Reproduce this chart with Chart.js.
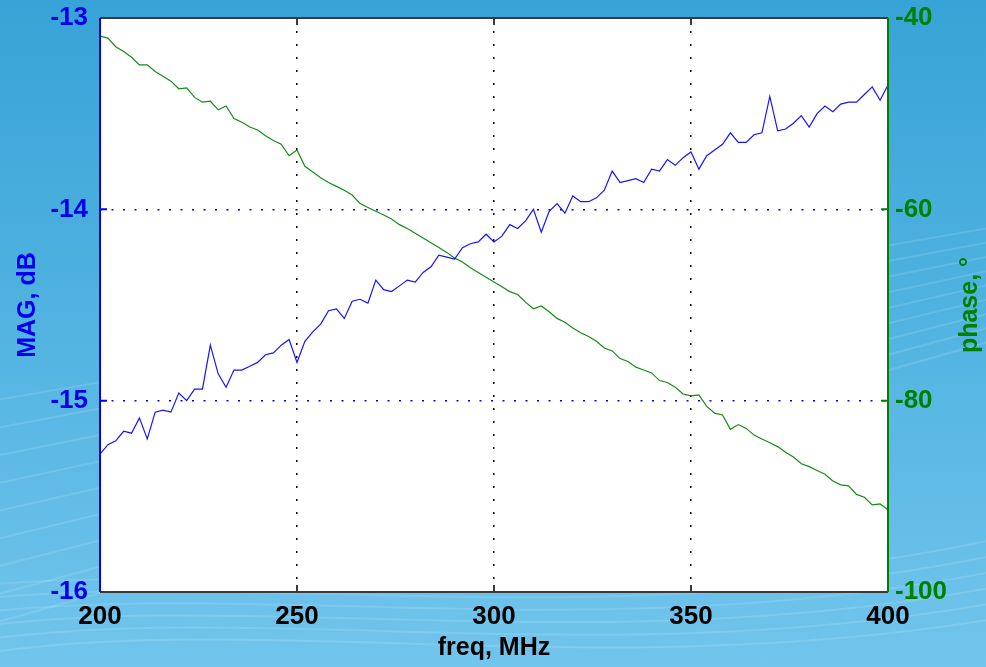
<!DOCTYPE html>
<html>
<head>
<meta charset="utf-8">
<script src="https://cdn.jsdelivr.net/npm/chart.js@4.4.1/dist/chart.umd.min.js"></script>
<style>
  html, body { margin: 0; padding: 0; }
  body {
    width: 986px; height: 667px; overflow: hidden;
    background: linear-gradient(180deg, #38a3d6 0%, #4fb2e0 45%, #72c5ec 100%);
  }
  #wrap { position: relative; width: 986px; height: 667px; }
</style>
</head>
<body>
<div id="wrap"><canvas id="myChart"></canvas></div>
<script>
// frequency sweep, MHz
const freq = [
  200, 202, 204, 206, 208, 210, 212, 214, 216, 218,
  220, 222, 224, 226, 228, 230, 232, 234, 236, 238,
  240, 242, 244, 246, 248, 250, 252, 254, 256, 258,
  260, 262, 264, 266, 268, 270, 272, 274, 276, 278,
  280, 282, 284, 286, 288, 290, 292, 294, 296, 298,
  300, 302, 304, 306, 308, 310, 312, 314, 316, 318,
  320, 322, 324, 326, 328, 330, 332, 334, 336, 338,
  340, 342, 344, 346, 348, 350, 352, 354, 356, 358,
  360, 362, 364, 366, 368, 370, 372, 374, 376, 378,
  380, 382, 384, 386, 388, 390, 392, 394, 396, 398,
  400
];

// MAG, dB (left axis)
const mag = [
  -15.28, -15.23, -15.21, -15.16, -15.17, -15.09, -15.20, -15.06, -15.05, -15.06,
  -14.96, -15.00, -14.94, -14.94, -14.71, -14.86, -14.93, -14.84, -14.84, -14.82,
  -14.80, -14.76, -14.75, -14.71, -14.68, -14.80, -14.69, -14.64, -14.60, -14.53,
  -14.52, -14.57, -14.48, -14.47, -14.49, -14.37, -14.42, -14.43, -14.40, -14.37,
  -14.38, -14.33, -14.30, -14.24, -14.25, -14.26, -14.20, -14.18, -14.17, -14.13,
  -14.17, -14.14, -14.08, -14.10, -14.06, -14.00, -14.12, -14.01, -13.97, -14.02,
  -13.93, -13.96, -13.96, -13.94, -13.90, -13.80, -13.86, -13.85, -13.84, -13.86,
  -13.79, -13.80, -13.74, -13.77, -13.73, -13.70, -13.79, -13.72, -13.69, -13.66,
  -13.60, -13.65, -13.65, -13.61, -13.60, -13.41, -13.59, -13.58, -13.55, -13.51,
  -13.57, -13.50, -13.46, -13.49, -13.45, -13.44, -13.44, -13.40, -13.36, -13.43,
  -13.35
];

// phase, degrees (right axis)
const phase = [
  -41.9, -42.1, -43.0, -43.5, -44.1, -44.9, -44.9, -45.6, -46.1, -46.6,
  -47.4, -47.3, -48.3, -48.8, -48.7, -49.6, -49.2, -50.5, -50.9, -51.4,
  -51.7, -52.3, -52.8, -53.2, -54.4, -53.8, -55.5, -56.1, -56.7, -57.2,
  -57.6, -58.0, -58.5, -59.4, -59.8, -60.2, -60.6, -61.0, -61.6, -62.0,
  -62.5, -63.0, -63.5, -64.0, -64.5, -65.1, -65.5, -66.1, -66.6, -67.1,
  -67.6, -68.1, -68.6, -68.9, -69.7, -70.4, -70.1, -70.7, -71.4, -71.8,
  -72.4, -72.9, -73.3, -73.8, -74.5, -74.8, -75.6, -75.9, -76.5, -76.8,
  -77.1, -77.9, -78.1, -78.6, -79.3, -79.5, -79.4, -80.6, -81.3, -81.5,
  -83.0, -82.5, -82.9, -83.6, -84.0, -84.4, -84.8, -85.4, -85.9, -86.6,
  -86.9, -87.3, -87.7, -88.4, -88.8, -88.9, -89.8, -90.1, -90.9, -90.8,
  -91.4
];

const xTicks = [200, 250, 300, 350, 400];
const magTicks = [-16, -15, -14, -13];
const phaseTicks = [-100, -80, -60, -40];

const BLUE = 'rgb(0, 0, 240)';
const GREEN = 'rgb(0, 128, 0)';
const tickFont = { family: '"Liberation Sans", Arial, sans-serif', size: 26, weight: 'bold' };
const titleFont = { family: '"Liberation Sans", Arial, sans-serif', size: 25, weight: 'bold' };

// fixed axis sizes, no label overflow padding
function fixWidth(w) {
  return s => { s.width = w; s.paddingTop = 0; s.paddingBottom = 0; };
}

// plot backdrop, faint swooshes and the white plot area
const backdrop = {
  id: 'backdrop',
  beforeDraw(chart) {
    const { ctx, chartArea: a, width, height } = chart;
    ctx.save();
    ctx.strokeStyle = 'rgba(255,255,255,0.12)';
    ctx.lineWidth = 2;
    for (let i = 0; i < 9; i++) {
      ctx.beginPath();
      ctx.moveTo(-20, height - 40 - i * 28);
      ctx.quadraticCurveTo(width * 0.45, height - 170 - i * 22, width + 20, height - 330 - i * 14);
      ctx.stroke();
    }
    for (let i = 0; i < 6; i++) {
      ctx.beginPath();
      ctx.moveTo(-40, height - 10 - i * 14);
      ctx.bezierCurveTo(250, height - 60 - i * 10, 600, height + 20 - i * 12, width + 20, height - 50 - i * 16);
      ctx.stroke();
    }
    ctx.fillStyle = '#ffffff';
    ctx.fillRect(a.left, a.top, a.right - a.left, a.bottom - a.top);
    ctx.restore();
  },
  afterDraw(chart) {
    const { ctx, chartArea: a, scales } = chart;
    ctx.save();
    // inward tick marks
    ctx.lineWidth = 2;
    ctx.strokeStyle = '#3a3a3a';
    ctx.beginPath();
    xTicks.slice(1, -1).forEach(v => {
      const px = scales.x.getPixelForValue(v);
      ctx.moveTo(px, a.top); ctx.lineTo(px, a.top + 7);
      ctx.moveTo(px, a.bottom); ctx.lineTo(px, a.bottom - 7);
    });
    ctx.stroke();
    ctx.strokeStyle = BLUE;
    ctx.beginPath();
    magTicks.slice(1, -1).forEach(v => {
      const py = scales.yMag.getPixelForValue(v);
      ctx.moveTo(a.left, py); ctx.lineTo(a.left + 7, py);
    });
    ctx.stroke();
    ctx.strokeStyle = GREEN;
    ctx.beginPath();
    phaseTicks.slice(1, -1).forEach(v => {
      const py = scales.yPhase.getPixelForValue(v);
      ctx.moveTo(a.right, py); ctx.lineTo(a.right - 7, py);
    });
    ctx.stroke();
    // frame
    ctx.strokeStyle = '#3a3a3a';
    ctx.beginPath();
    ctx.moveTo(a.left, a.top); ctx.lineTo(a.right, a.top);
    ctx.moveTo(a.left, a.bottom); ctx.lineTo(a.right, a.bottom);
    ctx.stroke();
    ctx.strokeStyle = BLUE;
    ctx.beginPath();
    ctx.moveTo(a.left, a.top); ctx.lineTo(a.left, a.bottom);
    ctx.stroke();
    ctx.strokeStyle = GREEN;
    ctx.beginPath();
    ctx.moveTo(a.right, a.top); ctx.lineTo(a.right, a.bottom);
    ctx.stroke();
    // right axis title reads bottom-to-top in the original
    ctx.translate(970, (a.top + a.bottom) / 2);
    ctx.rotate(-Math.PI / 2);
    ctx.font = 'bold 25px "Liberation Sans", Arial, sans-serif';
    ctx.fillStyle = GREEN;
    ctx.textAlign = 'center';
    ctx.textBaseline = 'middle';
    ctx.fillText('phase, \u00b0', 0, 0);
    ctx.restore();
  }
};

const ctx = document.getElementById('myChart').getContext('2d');

const myChart = new Chart(ctx, {
  type: 'line',
  data: {
    datasets: [{
      label: 'MAG, dB',
      data: freq.map((f, i) => ({ x: f, y: mag[i] })),
      yAxisID: 'yMag',
      borderColor: 'rgb(20, 20, 255)',
      borderWidth: 1.2,
      pointRadius: 0,
      tension: 0
    }, {
      label: 'phase',
      data: freq.map((f, i) => ({ x: f, y: phase[i] })),
      yAxisID: 'yPhase',
      borderColor: 'rgb(20, 140, 20)',
      borderWidth: 1.2,
      pointRadius: 0,
      tension: 0
    }]
  },
  options: {
    responsive: true,
    maintainAspectRatio: false,
    animation: false,
    layout: { padding: { top: 18, left: 0, right: 0, bottom: 0 } },
    plugins: {
      legend: { display: false },
      tooltip: { enabled: false }
    },
    scales: {
      x: {
        type: 'linear',
        min: 200,
        max: 400,
        afterBuildTicks: s => { s.ticks = xTicks.map(v => ({ value: v })); },
        afterFit: s => { s.height = 75; s.paddingLeft = 0; s.paddingRight = 0; },
        ticks: { color: '#000', font: tickFont, padding: 9, maxRotation: 0 },
        grid: {
          color: c => (c.tick && (c.tick.value === 200 || c.tick.value === 400)) ? 'rgba(0,0,0,0)' : '#000',
          lineWidth: 1.5,
          drawTicks: false
        },
        border: { display: false, dash: [2, 11] },
        title: { display: true, text: 'freq, MHz', color: '#000', font: titleFont, padding: { top: 0, bottom: 4 } }
      },
      yMag: {
        type: 'linear',
        position: 'left',
        min: -16,
        max: -13,
        afterBuildTicks: s => { s.ticks = magTicks.map(v => ({ value: v })); },
        afterFit: fixWidth(100),
        ticks: { color: BLUE, font: tickFont, padding: 12 },
        grid: {
          color: c => (c.tick && (c.tick.value === -16 || c.tick.value === -13)) ? 'rgba(0,0,0,0)' : BLUE,
          lineWidth: 1.5,
          drawTicks: false
        },
        border: { display: false, dash: [2, 9.5] },
        title: { display: true, text: 'MAG, dB', color: BLUE, font: titleFont, padding: { top: 13, bottom: 0 } }
      },
      yPhase: {
        type: 'linear',
        position: 'right',
        min: -100,
        max: -40,
        afterBuildTicks: s => { s.ticks = phaseTicks.map(v => ({ value: v })); },
        afterFit: fixWidth(98),
        ticks: { color: GREEN, font: tickFont, padding: 7 },
        grid: { drawOnChartArea: false, drawTicks: false },
        border: { display: false }
      }
    }
  },
  plugins: [backdrop]
});
</script>
</body>
</html>
